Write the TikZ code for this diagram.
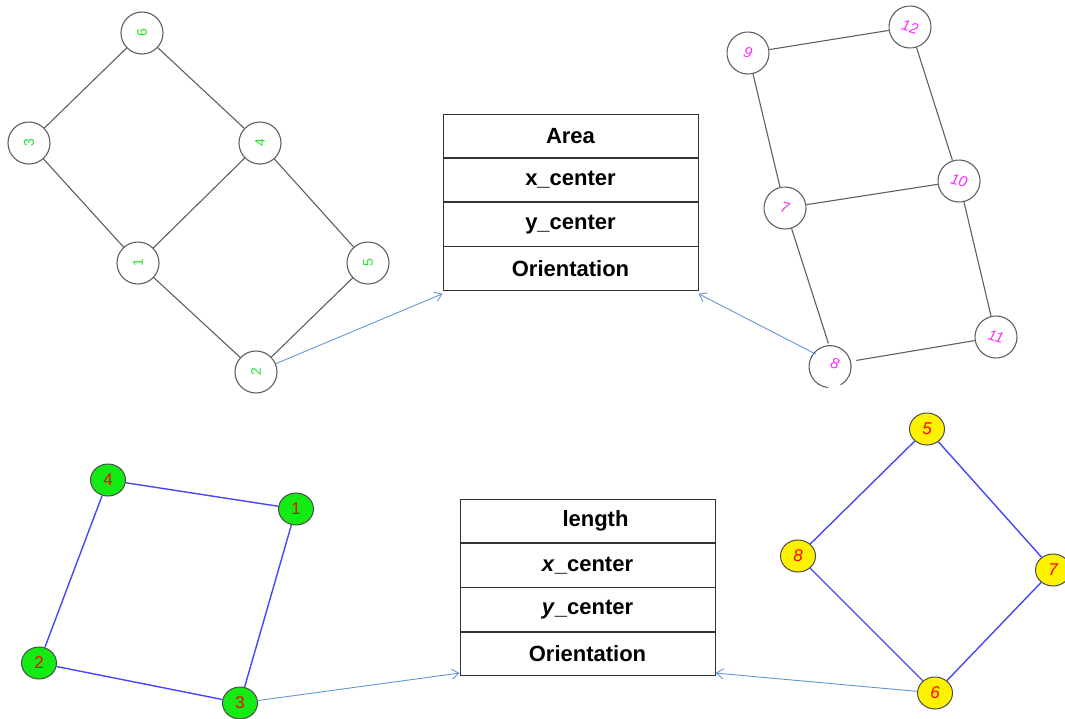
\documentclass[tikz,border=0pt]{standalone}
\usepackage{fontspec}
\setmainfont{Liberation Sans}
\usetikzlibrary{positioning,shapes.geometric,arrows.meta}
\definecolor{edgegray}{RGB}{95,95,95}
\definecolor{lablgreen}{RGB}{40,225,40}
\definecolor{lablmag}{RGB}{255,40,255}
\definecolor{fillgreen}{RGB}{20,235,20}
\definecolor{edgeblue}{RGB}{70,70,250}
\definecolor{arrowblue}{RGB}{100,150,215}
\begin{document}
\begin{tikzpicture}[x=1pt,y=-1pt,
    gnode/.style={draw=edgegray,circle,line width=1.1pt,minimum size=42pt,inner sep=0pt},
    greenlab/.style={text=lablgreen,font=\fontsize{14}{14}\selectfont,rotate=90},
    maglab/.style={text=lablmag,font=\fontsize{15}{15}\selectfont\itshape,rotate=-15},
    dotnode/.style={draw=black!70,ellipse,line width=1pt,minimum width=35pt,minimum height=32pt,inner sep=0pt,
        text=red,font=\fontsize{17}{17}\selectfont},
    rowbox/.style={draw=black!80,line width=0.9pt,minimum width=255pt,minimum height=43.4pt,inner sep=0pt,
        font=\fontsize{22}{22}\selectfont\bfseries},
    gedge/.style={draw=edgegray,line width=1.1pt},
    bedge/.style={draw=edgeblue,line width=1.4pt},
    feed/.style={draw=arrowblue,line width=0.9pt,-{Straight Barb[length=7pt,width=10pt]}}]
\useasboundingbox (0,0) rectangle (1065,718);

% top left graph
\node[gnode,greenlab] (t6) at (142,33) {6};
\node[gnode,greenlab] (t3) at (29,143) {3};
\node[gnode,greenlab] (t4) at (260,143) {4};
\node[gnode,greenlab] (t1) at (138,263) {1};
\node[gnode,greenlab] (t5) at (368,263) {5};
\node[gnode,greenlab] (t2) at (256,372) {2};
\draw[gedge] (t6)--(t3) (t6)--(t4) (t3)--(t1) (t4)--(t1) (t4)--(t5) (t1)--(t2) (t5)--(t2);

% top right graph
\node[gnode,maglab] (t9) at (748,53) {9};
\node[gnode,maglab] (t12) at (910,27) {12};
\node[gnode,maglab] (t10) at (959,181) {10};
\node[gnode,maglab] (t7) at (785,208) {7};
\node[gnode,maglab] (t11) at (996,337) {11};
\node[gnode,maglab,draw=none] (t8) at (835,364) {8};
\draw[gedge] (t8.-60) arc[start angle=-60,end angle=265,radius=21pt];
\draw[gedge] (t9)--(t12) (t9)--(t7) (t12)--(t10) (t7)--(t10) (t7)--(t8) (t10)--(t11) (t8)--(t11);

% top table
\node[rowbox] (a1) at (570.5,135.7) {Area};
\node[rowbox,below=0pt of a1] (a2) {x\_center};
\node[rowbox,below=0pt of a2] (a3) {y\_center};
\node[rowbox,below=0pt of a3] (a4) {Orientation};
\draw[feed] (t2) -- ([yshift=-3pt]a4.south west);
\draw[feed] (t8) -- ([yshift=-3pt]a4.south east);

% bottom left graph
\node[dotnode,fill=fillgreen] (b4) at (108,480) {4};
\node[dotnode,fill=fillgreen] (b1) at (296,509) {1};
\node[dotnode,fill=fillgreen] (b2) at (39,663) {2};
\node[dotnode,fill=fillgreen] (b3) at (240,703) {3};
\draw[bedge] (b4)--(b1) (b4)--(b2) (b1)--(b3) (b2)--(b3);

% bottom right graph
\node[dotnode,fill=yellow,font=\fontsize{17}{17}\selectfont\itshape] (b5) at (927,429) {5};
\node[dotnode,fill=yellow,font=\fontsize{17}{17}\selectfont\itshape] (b8) at (798,556) {8};
\node[dotnode,fill=yellow,font=\fontsize{17}{17}\selectfont\itshape] (b7) at (1053,570) {7};
\node[dotnode,fill=yellow,font=\fontsize{17}{17}\selectfont\itshape] (b6) at (935,693) {6};
\draw[bedge] (b5)--(b8) (b5)--(b7) (b8)--(b6) (b7)--(b6);

% bottom table
\node[rowbox] (c1) at (587.5,521) {\hspace{16pt}length};
\node[rowbox,below=0pt of c1] (c2) {\textit{x}\_center};
\node[rowbox,below=0pt of c2] (c3) {\textit{y}\_center};
\node[rowbox,below=0pt of c3] (c4) {Orientation};
\draw[feed] (b3) -- ([yshift=3pt]c4.south west);
\draw[feed] (b6) -- ([yshift=3pt]c4.south east);
\end{tikzpicture}
\end{document}
